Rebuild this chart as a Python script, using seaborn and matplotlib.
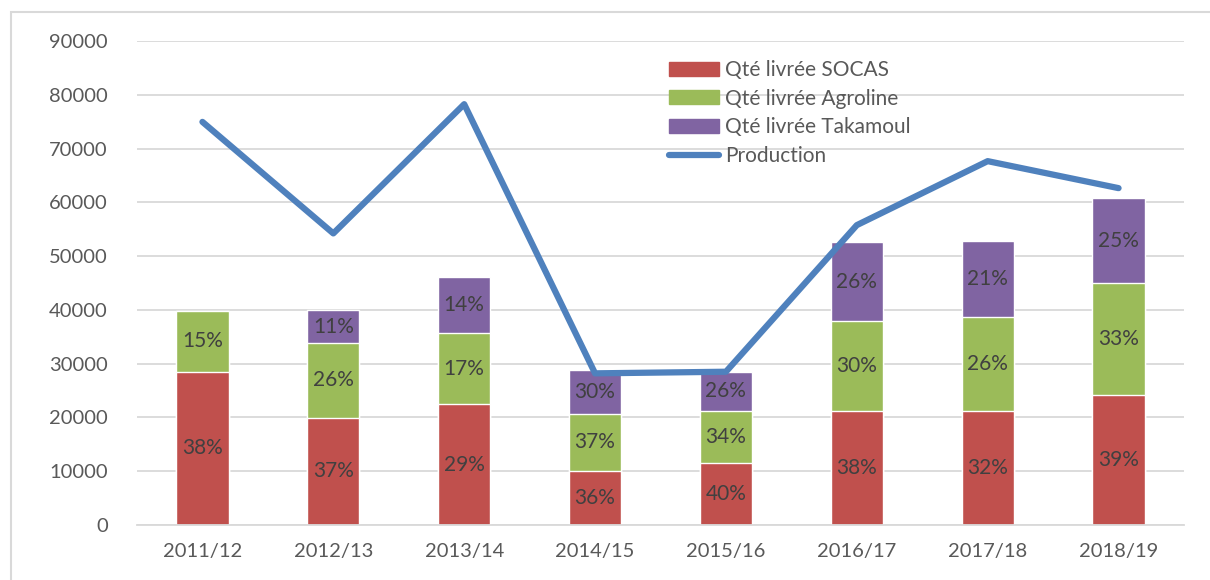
import numpy as np
import pandas as pd
import matplotlib.pyplot as plt
import seaborn as sns
from matplotlib.patches import Patch, Rectangle
from matplotlib.lines import Line2D

# Données
campagnes = ['2011/12', '2012/13', '2013/14', '2014/15', '2015/16', '2016/17', '2017/18', '2018/19']
socas = [28500, 19950, 22430, 10100, 11470, 21250, 21250, 24160]
agroline = [11280, 13930, 13200, 10500, 9730, 16610, 17470, 20760]
takamoul = [0, 6020, 10470, 8300, 7300, 14690, 14080, 15860]
production = [74960, 54220, 78250, 28200, 28500, 55760, 67660, 62640]

socas_pct = ['38%', '37%', '29%', '36%', '40%', '38%', '32%', '39%']
agroline_pct = ['15%', '26%', '17%', '37%', '34%', '30%', '26%', '33%']
takamoul_pct = ['', '11%', '14%', '30%', '26%', '26%', '21%', '25%']

c_socas = '#C0504D'
c_agro = '#9BBB59'
c_taka = '#8064A2'
c_prod = '#4F81BD'

sns.set_style('white')
plt.rcParams['font.family'] = ['Lato', 'DejaVu Sans']

df = pd.DataFrame({'campagne': campagnes, 'socas': socas,
                   'agroline': agroline, 'takamoul': takamoul})
df['cum1'] = df['socas']
df['cum2'] = df['socas'] + df['agroline']
df['cum3'] = df['cum2'] + df['takamoul']

fig = plt.figure(figsize=(12.1, 5.8), dpi=100)
ax = fig.add_axes([137 / 1210, 1 - 525 / 580, (1184 - 137) / 1210, 484 / 580])

# barres empilées : on dessine les cumuls du plus grand au plus petit
sns.barplot(data=df, x='campagne', y='cum3', color=c_taka, width=0.4, saturation=1, ax=ax, zorder=2)
sns.barplot(data=df, x='campagne', y='cum2', color=c_agro, width=0.4, saturation=1, ax=ax, zorder=2)
sns.barplot(data=df, x='campagne', y='cum1', color=c_socas, width=0.4, saturation=1, ax=ax, zorder=2)

# courbe de production
sns.lineplot(x=np.arange(len(campagnes)), y=production, color=c_prod, linewidth=4.5,
             sort=False, ax=ax, zorder=4)

# étiquettes de pourcentage au centre des segments
for i in range(len(campagnes)):
    segs = [(0, df['cum1'][i], socas_pct[i]),
            (df['cum1'][i], df['cum2'][i], agroline_pct[i]),
            (df['cum2'][i], df['cum3'][i], takamoul_pct[i])]
    for lo, hi, txt in segs:
        if txt:
            ax.text(i, (lo + hi) / 2, txt, ha='center', va='center',
                    fontsize=15, color='#404040', zorder=3)

ax.set_ylim(0, 90000)
ax.set_xlim(-0.5, len(campagnes) - 0.5)
ax.set_yticks(range(0, 90001, 10000))
ax.yaxis.grid(True, color='#D9D9D9', linewidth=1.3, zorder=0)
ax.set_axisbelow(True)
ax.set_xlabel('')
ax.set_ylabel('')
for s in ['top', 'right', 'left']:
    ax.spines[s].set_visible(False)
ax.spines['bottom'].set_color('#D9D9D9')
ax.spines['bottom'].set_linewidth(1.3)
ax.tick_params(axis='both', length=0, labelsize=14.5, colors='#595959')
ax.tick_params(axis='y', pad=21)
ax.tick_params(axis='x', pad=13)

handles = [Patch(color=c_socas, label='Qté livrée SOCAS'),
           Patch(color=c_agro, label='Qté livrée Agroline'),
           Patch(color=c_taka, label='Qté livrée Takamoul'),
           Line2D([], [], color=c_prod, linewidth=4.5, solid_capstyle='round', label='Production')]
leg = ax.legend(handles=handles, loc='upper left', bbox_to_anchor=(0.5, 0.978),
                frameon=False, fontsize=15, handlelength=2.4, handleheight=0.65,
                handletextpad=0.3, labelspacing=0.42, borderaxespad=0)
for t in leg.get_texts():
    t.set_color('#595959')

# bordure du cadre du graphique
fig.patches.append(Rectangle((11 / 1210, -0.1), 1.2, 1.1 - 12 / 580,
                             transform=fig.transFigure, fill=False,
                             edgecolor='#D9D9D9', linewidth=1.5))

fig.savefig('out.png', dpi=100)
